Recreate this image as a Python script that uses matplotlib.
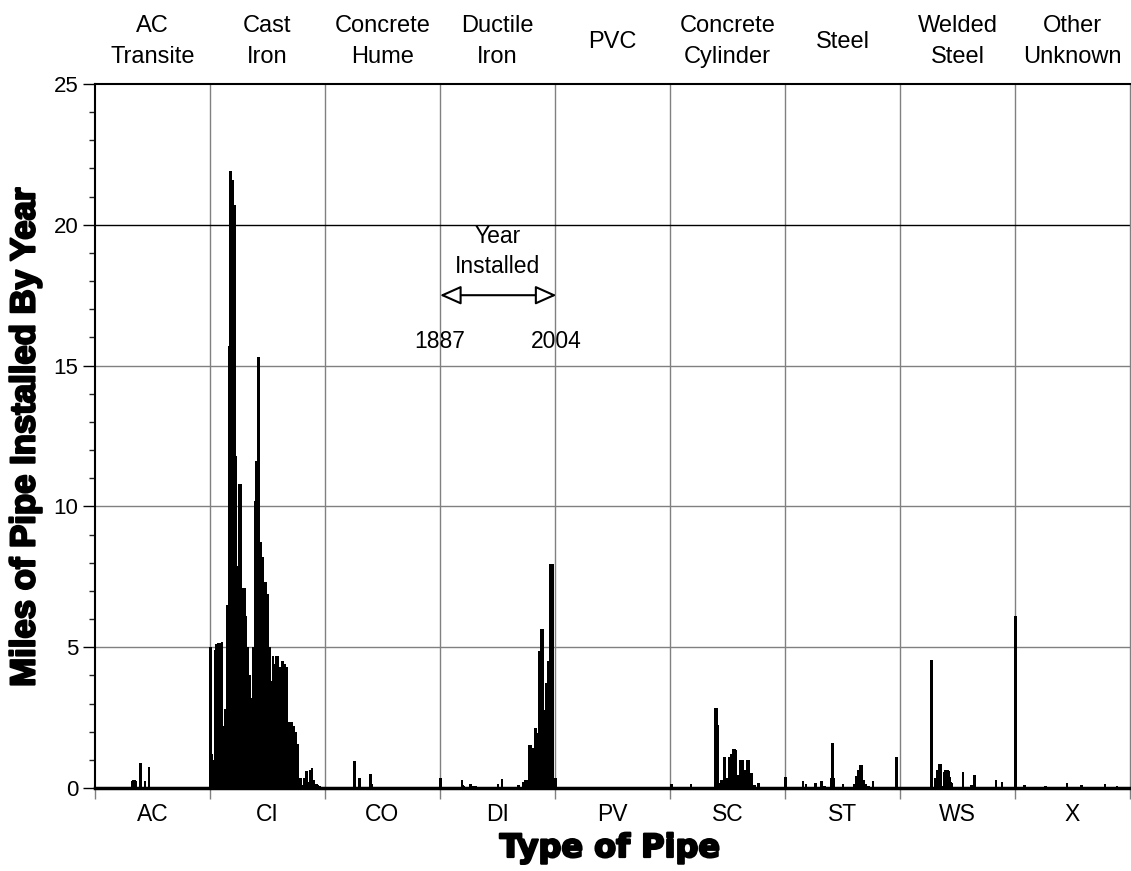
import matplotlib
matplotlib.use('Agg')
import matplotlib.pyplot as plt
import matplotlib.patheffects as pe
from matplotlib.ticker import FixedLocator, MultipleLocator

# ---------------- data ----------------
codes = ['AC', 'CI', 'CO', 'DI', 'PV', 'SC', 'ST', 'WS', 'X']
names = ['AC\nTransite', 'Cast\nIron', 'Concrete\nHume', 'Ductile\nIron', 'PVC',
         'Concrete\nCylinder', 'Steel', 'Welded\nSteel', 'Other\nUnknown']
first_year = 1887
last_year = 2004

ac_years = [1925, 1926, 1927, 1928, 1933, 1938, 1942]
ac_miles = [0.25, 0.3, 0.3, 0.25, 0.88, 0.25, 0.75]

ci_years = list(range(1887, 2005))
ci_miles = [5.0, 1.2, 0.3, 0.6, 1.0, 4.9, 5.1, 5.1, 5.15, 5.15,
            5.1, 5.15, 5.2, 2.2, 1.5, 2.8, 2.8, 6.5, 6.4, 15.7,
            21.9, 21.9, 21.6, 21.6, 20.7, 20.7, 11.8, 7.9, 7.6, 7.6,
            10.8, 10.8, 6.4, 5.8, 7.1, 7.1, 6.1, 5.0, 5.0, 4.0,
            4.0, 3.2, 3.2, 0.9, 5.0, 5.0, 10.2, 11.6, 11.6, 15.3,
            9.7, 8.75, 8.75, 8.2, 8.2, 7.3, 7.3, 7.3, 6.9, 6.9,
            5.0, 5.0, 3.8, 3.8, 4.7, 4.4, 4.4, 4.4, 4.7, 4.7,
            4.3, 4.3, 2.5, 2.5, 4.5, 4.4, 4.4, 4.3, 4.3, 2.3,
            2.3, 2.35, 2.35, 2.35, 2.2, 2.2, 2.0, 2.0, 1.55, 1.55,
            1.55, 0.05, 0.35, 0.35, 0.1, 0.1, 0.35, 0.35, 0.6, 0.6,
            0.2, 0.2, 0.65, 0.65, 0.7, 0.3, 0.3, 0.15, 0.15, 0.15,
            0.1, 0.07, 0.07, 0.05, 0.05, 0.05, 0.0, 0.0]

co_years = [1917, 1922, 1933, 1934]
co_miles = [0.95, 0.35, 0.5, 0.15]

di_years = [1887, 1909, 1910, 1911, 1918, 1921, 1922, 1923, 1946, 1950,
            1967, 1972, 1974, 1976, 1978, 1979, 1980, 1981, 1982, 1983,
            1984, 1985, 1986, 1987, 1988, 1989, 1990, 1991, 1992, 1993,
            1994, 1995, 1996, 1997, 1998, 1999, 2000, 2001, 2002, 2003]
di_miles = [0.36, 0.27, 0.1, 0.08, 0.14, 0.08, 0.08, 0.08, 0.14, 0.33,
            0.1, 0.2, 0.27, 0.27, 1.52, 1.52, 1.52, 1.42, 1.42, 1.42,
            2.13, 2.13, 1.95, 1.95, 4.86, 4.86, 5.63, 5.63, 5.63, 2.76,
            2.76, 2.76, 3.73, 3.73, 4.5, 4.5, 7.96, 7.96, 7.96, 0.36]

pv_years = [1887]
pv_miles = [0.36]

sc_years = [1888, 1908, 1933, 1934, 1935, 1936, 1937, 1938, 1939, 1940,
            1941, 1942, 1943, 1944, 1945, 1946, 1947, 1948, 1949, 1950,
            1951, 1952, 1953, 1954, 1955, 1956, 1957, 1958, 1959, 1960,
            1961, 1962, 1963, 1964, 1965, 1966, 1967, 1968, 1969, 1970,
            1971, 1972, 1973, 1977, 1978]
sc_miles = [0.14, 0.14, 2.84, 2.84, 2.25, 0.18, 0.18, 0.18, 0.3, 0.3,
            0.3, 1.1, 1.1, 0.34, 0.34, 0.34, 1.1, 1.1, 1.2, 1.2,
            1.4, 1.4, 1.4, 1.35, 0.4, 0.4, 0.45, 0.45, 1.0, 1.0,
            1.0, 0.65, 0.65, 0.18, 0.18, 0.98, 0.98, 0.53, 0.53, 0.53,
            0.1, 0.1, 0.1, 0.18, 0.18]

st_years = [1887, 1905, 1908, 1918, 1924, 1927, 1934, 1935, 1936, 1946,
            1955, 1958, 1960, 1961, 1962, 1963, 1964, 1965, 1967, 1969,
            1972, 1977, 2001]
st_miles = [0.38, 0.24, 0.15, 0.18, 0.26, 0.08, 0.35, 1.6, 0.35, 0.15,
            0.05, 0.14, 0.44, 0.44, 0.65, 0.65, 0.82, 0.82, 0.3, 0.14,
            0.08, 0.26, 1.1]

ws_years = [1919, 1923, 1924, 1925, 1926, 1927, 1928, 1930, 1932, 1933,
            1934, 1935, 1936, 1937, 1938, 1939, 1940, 1951, 1960, 1963,
            1985, 1991]
ws_miles = [4.55, 0.35, 0.35, 0.65, 0.65, 0.85, 0.85, 0.06, 0.56, 0.63,
            0.63, 0.65, 0.6, 0.59, 0.4, 0.2, 0.18, 0.56, 0.12, 0.45,
            0.3, 0.22]

x_years = [1887, 1896, 1918, 1940, 1955, 1979, 1991]
x_miles = [6.1, 0.1, 0.06, 0.19, 0.09, 0.15, 0.07]

series = [(ac_years, ac_miles), (ci_years, ci_miles), (co_years, co_miles),
          (di_years, di_miles), (pv_years, pv_miles), (sc_years, sc_miles),
          (st_years, st_miles), (ws_years, ws_miles), (x_years, x_miles)]

# ---------------- figure ----------------
W, H = 1131, 871
n_years = last_year - first_year + 1
n_pan = len(codes)
grey = '#808080'
font = 'Liberation Sans'

fig = plt.figure(figsize=(W / 100, H / 100), dpi=100)
ax = fig.add_axes([95 / W, 1 - 788 / H, 1035 / W, 704 / H])

for p, (yrs, vals) in enumerate(series):
    xs = [p * n_years + (y - first_year) + 0.5 for y in yrs]
    ax.bar(xs, vals, width=2.6, color='black', linewidth=0,
           antialiased=False, zorder=3)

ax.set_xlim(0, n_pan * n_years)
ax.set_ylim(0, 25)

# grid
for p in range(1, n_pan):
    ax.axvline(p * n_years, color=grey, lw=1.0, zorder=1)
for v in (5, 10, 15):
    ax.axhline(v, color=grey, lw=1.0, zorder=1)
ax.axhline(20, color='black', lw=1.0, zorder=1)

# spines
ax.spines['top'].set_linewidth(1.5)
ax.spines['left'].set_linewidth(1.5)
ax.spines['bottom'].set_linewidth(2.5)
ax.spines['bottom'].set_zorder(4)
ax.spines['right'].set_color(grey)
ax.spines['right'].set_linewidth(1.0)

# x ticks
ax.xaxis.set_major_locator(FixedLocator([p * n_years for p in range(n_pan + 1)]))
ax.xaxis.set_major_formatter(plt.NullFormatter())
ax.tick_params(axis='x', which='major', length=8, width=1, color=grey, direction='out')
ax.set_xticks([(p + 0.5) * n_years for p in range(n_pan)], minor=True)
ax.set_xticklabels(codes, minor=True, fontsize=16.5, family=font)
ax.tick_params(axis='x', which='minor', length=0, pad=11)

# y ticks
ax.yaxis.set_major_locator(MultipleLocator(5))
ax.yaxis.set_minor_locator(MultipleLocator(1))
ax.tick_params(axis='y', which='major', length=9, width=1, direction='out',
               labelsize=16, pad=3)
ax.tick_params(axis='y', which='minor', length=4.5, width=1, color='#222222',
               direction='out')
for lab in ax.get_yticklabels():
    lab.set_family(font)
for t, v in zip(ax.yaxis.get_major_ticks(), ax.get_yticks()):
    t.tick1line.set_color('black' if v >= 20 else grey)

# axis titles
heavy = [pe.withStroke(linewidth=1.6, foreground='black')]
fig.text(610 / W, 1 - 857 / H, 'Type of Pipe', ha='center', va='baseline',
         fontsize=23, fontweight='bold', family='DejaVu Sans', path_effects=heavy)
fig.text(25 / W, 1 - 437 / H, 'Miles of Pipe Installed By Year', rotation=90,
         ha='center', va='center', fontsize=25, fontweight='bold',
         family=font, path_effects=heavy)

# panel titles (each line placed on its own baseline)
for p, nm in enumerate(names):
    xc = (95 + (p + 0.5) * 1035 / n_pan) / W
    lines = nm.split('\n')
    if len(lines) == 2:
        bases = [31.7, 63.3]
    else:
        bases = [47.5]
    for ln, b in zip(lines, bases):
        fig.text(xc, 1 - b / H, ln, ha='center', va='baseline', fontsize=17,
                 family=font)

# year installed annotation
ax.annotate('', xy=(3 * n_years, 17.5), xytext=(4 * n_years + 1.5, 17.5),
            arrowprops=dict(arrowstyle='<|-|>,head_length=0.65,head_width=0.29',
                            mutation_scale=20, fc='white', ec='black', lw=1.5,
                            shrinkA=0, shrinkB=0), zorder=5)
ax.text(3.5 * n_years, 19.35, 'Year', ha='center', va='baseline',
        fontsize=16.5, family=font, zorder=5)
ax.text(3.5 * n_years, 18.28, 'Installed', ha='center', va='baseline',
        fontsize=16.5, family=font, zorder=5)
ax.text(3 * n_years, 15.62, str(first_year), ha='center', va='baseline',
        fontsize=16.5, family=font, zorder=5)
ax.text(4 * n_years + 1.5, 15.62, str(last_year), ha='center', va='baseline',
        fontsize=16.5, family=font, zorder=5)

fig.savefig('out.png', dpi=100)
